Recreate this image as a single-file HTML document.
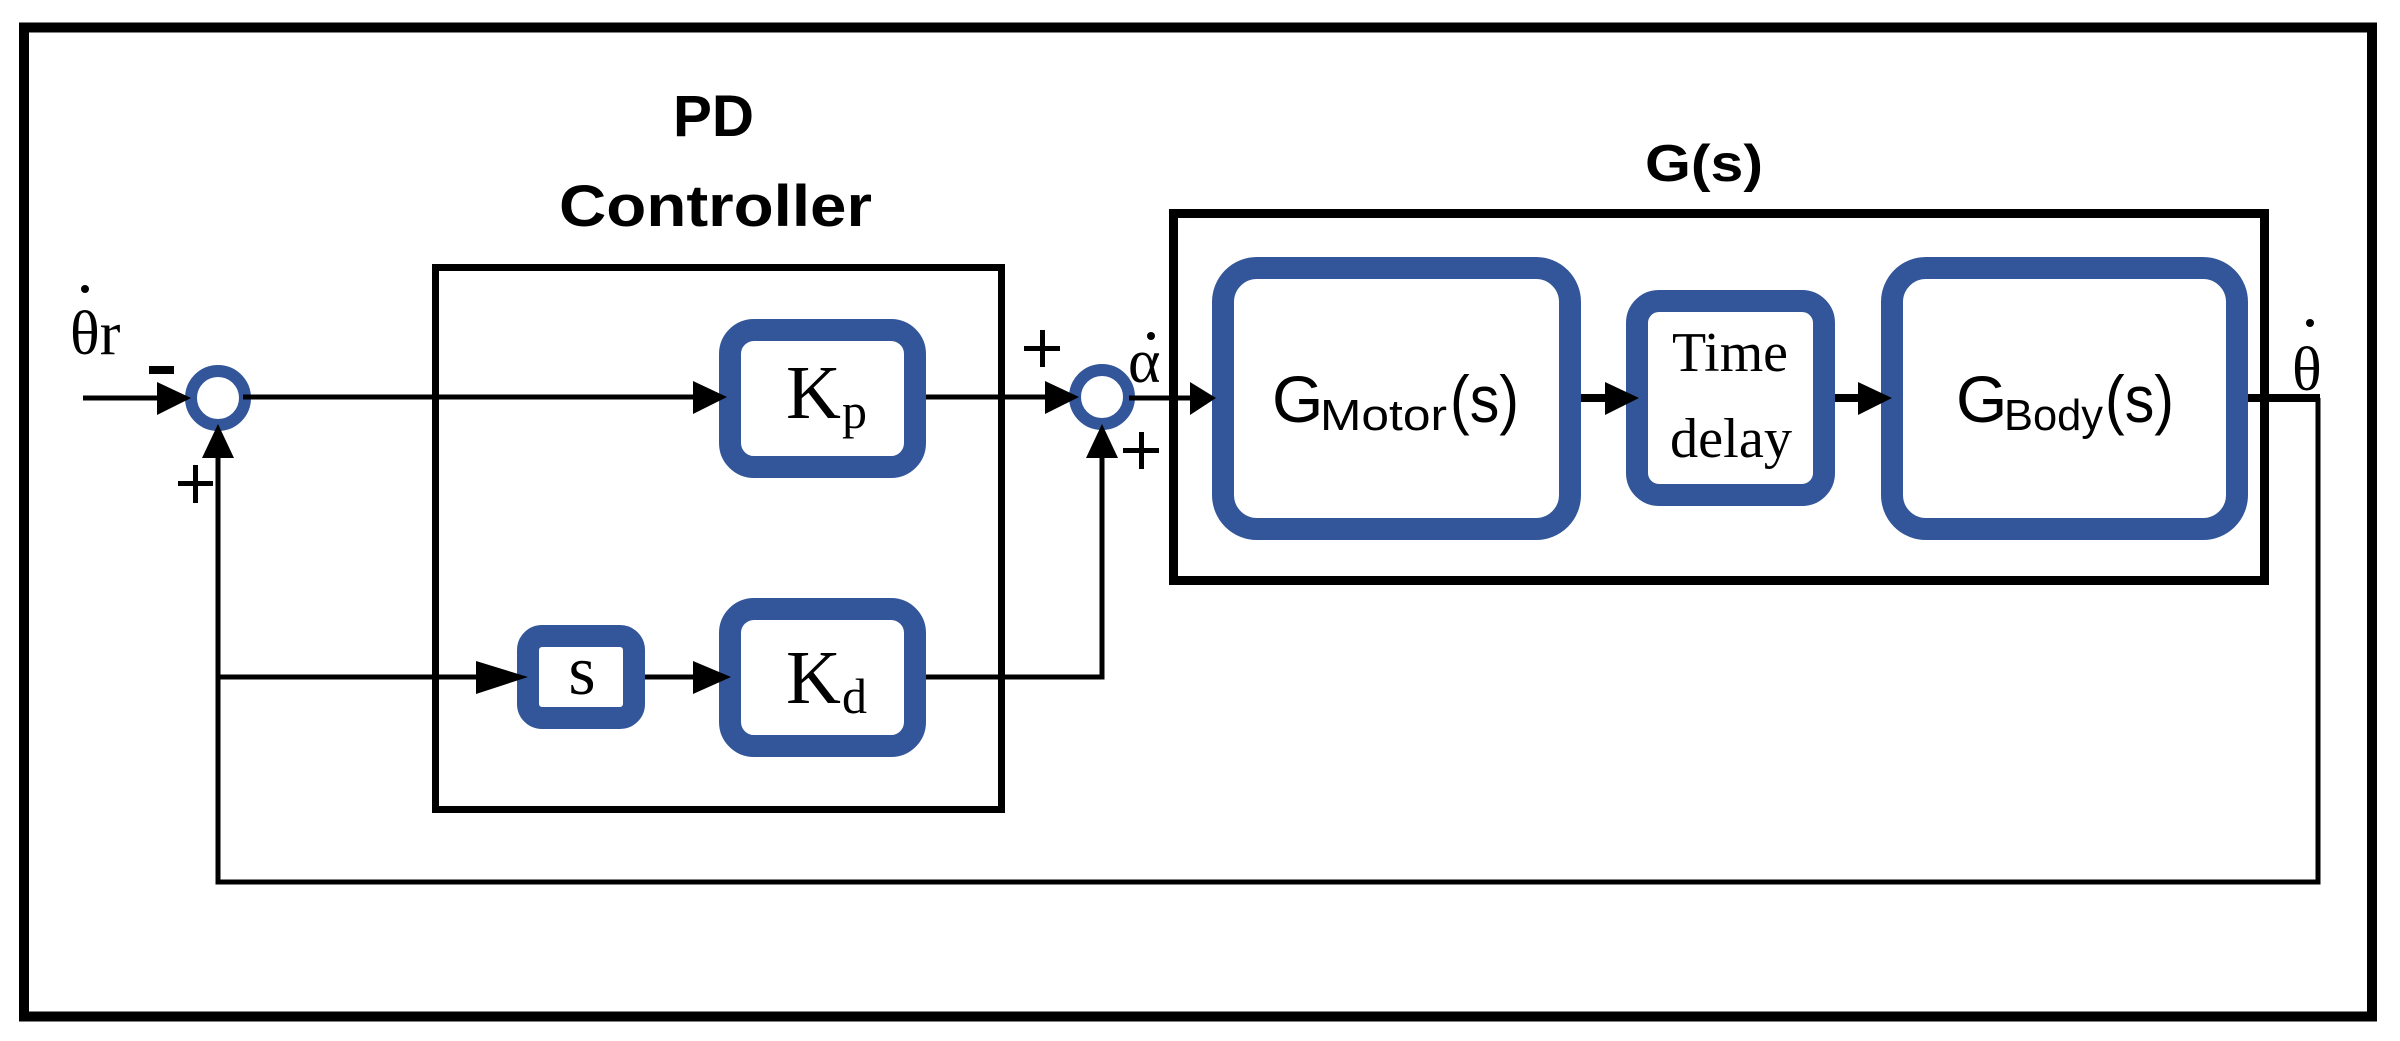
<!DOCTYPE html>
<html><head><meta charset="utf-8"><style>
html,body{margin:0;padding:0;background:#fff;}
svg{display:block;}
</style></head><body>
<svg width="2400" height="1041" viewBox="0 0 2400 1041" xmlns="http://www.w3.org/2000/svg">
<rect x="0" y="0" width="2400" height="1041" fill="#fff"/>
<!-- outer border -->
<rect x="24" y="27.5" width="2348" height="989" fill="none" stroke="#000" stroke-width="10"/>

<!-- titles -->
<g font-family="'Liberation Sans', sans-serif" font-weight="bold" fill="#000">
<text x="673" y="136" font-size="58" textLength="81" lengthAdjust="spacingAndGlyphs">PD</text>
<text x="559" y="226" font-size="58" textLength="313" lengthAdjust="spacingAndGlyphs">Controller</text>
<text x="1645" y="181" font-size="52" textLength="118" lengthAdjust="spacingAndGlyphs">G(s)</text>
</g>

<!-- PD box and G box -->
<rect x="435.5" y="267.5" width="566" height="542" fill="none" stroke="#000" stroke-width="7"/>
<rect x="1173.5" y="213.5" width="1091" height="367" fill="none" stroke="#000" stroke-width="9"/>

<!-- blue blocks -->
<g fill="none" stroke="#325699" stroke-width="22">
<rect x="730" y="330" width="185" height="137" rx="24"/>
<rect x="730" y="609" width="185" height="137" rx="24"/>
<rect x="528" y="636" width="106" height="82" rx="14"/>
<rect x="1223" y="268" width="347" height="261" rx="34"/>
<rect x="1637" y="301" width="187" height="194" rx="22"/>
<rect x="1892" y="268" width="345" height="261" rx="34"/>
<circle cx="218" cy="398" r="27" stroke-width="12"/>
<circle cx="1102" cy="397" r="27" stroke-width="12"/>
</g>

<!-- connectors -->
<g fill="none" stroke="#000" stroke-width="5">
<line x1="83" y1="398" x2="170" y2="398"/>
<line x1="243" y1="397" x2="700" y2="397"/>
<line x1="926" y1="397" x2="1050" y2="397"/>
<line x1="1129" y1="398" x2="1190" y2="398"/>
<line x1="1581" y1="398" x2="1610" y2="398" stroke-width="8"/>
<line x1="1835" y1="398" x2="1865" y2="398" stroke-width="8"/>
<line x1="2248" y1="398" x2="2320" y2="398" stroke-width="8"/>
<polyline points="2318,398 2318,882 218,882 218,445"/>
<line x1="218" y1="677" x2="480" y2="677"/>
<line x1="645" y1="677" x2="700" y2="677"/>
<polyline points="926,677 1102,677 1102,445"/>
</g>

<!-- arrowheads -->
<g fill="#000">
<polygon points="157,382 191,398 157,415"/>
<polygon points="1045,381 1079,397 1045,414"/>
<polygon points="693,381 727,397 693,414"/>
<polygon points="202,458 218,424 234,458"/>
<polygon points="1086,458 1102,424 1118,458"/>
<polygon points="476,661 528,677 476,694"/>
<polygon points="693,661 731,677 693,694"/>
<polygon points="1190,382 1216,398 1190,415"/>
<polygon points="1605,382 1639,398 1605,415"/>
<polygon points="1858,382 1892,398 1858,415"/>
</g>

<!-- signs -->
<g fill="#000">
<rect x="149" y="366" width="25" height="8"/>
<rect x="178" y="481" width="35" height="5"/><rect x="193" y="465" width="5" height="38"/>
<rect x="1024" y="346" width="36" height="5"/><rect x="1040" y="330" width="5" height="37"/>
<rect x="1123" y="448" width="36" height="5"/><rect x="1139" y="432" width="5" height="37"/>
<circle cx="85" cy="289" r="4"/>
<circle cx="1151" cy="336" r="4"/>
<circle cx="2310" cy="323" r="4"/>
</g>

<!-- serif labels -->
<g font-family="'Liberation Serif', serif" fill="#000">
<text x="70" y="354" font-size="62">θr</text>
<text x="1128" y="382" font-size="62">α</text>
<text x="2292" y="390" font-size="62">θ</text>
<text x="786" y="418" font-size="76">K</text>
<text x="842" y="428" font-size="50">p</text>
<text x="786" y="703" font-size="76">K</text>
<text x="842" y="713" font-size="50">d</text>
<text x="582" y="694" font-size="70" text-anchor="middle">s</text>
<text x="1730" y="371" font-size="56" text-anchor="middle" textLength="116" lengthAdjust="spacingAndGlyphs">Time</text>
<text x="1731" y="457" font-size="56" text-anchor="middle" textLength="122" lengthAdjust="spacingAndGlyphs">delay</text>
</g>

<!-- sans labels in G blocks -->
<g font-family="'Liberation Sans', sans-serif" fill="#000">
<text x="1272" y="422" font-size="66">G</text>
<text x="1320" y="430" font-size="44" textLength="127" lengthAdjust="spacingAndGlyphs">Motor</text>
<text x="1450" y="422" font-size="66" textLength="69" lengthAdjust="spacingAndGlyphs">(s)</text>
<text x="1956" y="422" font-size="66">G</text>
<text x="2004" y="430" font-size="44" textLength="99" lengthAdjust="spacingAndGlyphs">Body</text>
<text x="2105" y="422" font-size="66" textLength="69" lengthAdjust="spacingAndGlyphs">(s)</text>
</g>
</svg>
</body></html>
